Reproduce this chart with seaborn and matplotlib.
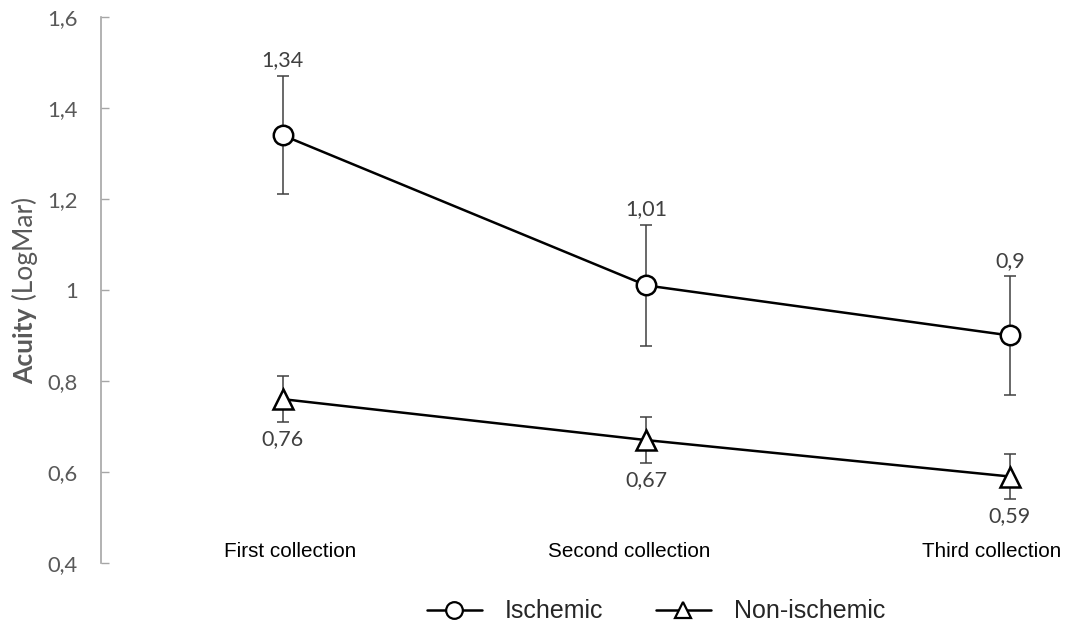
import matplotlib
matplotlib.use("Agg")
import matplotlib.pyplot as plt
import matplotlib.transforms as mtransforms
from matplotlib.lines import Line2D
import seaborn as sns
import pandas as pd
import numpy as np

categories = ["First collection", "Second collection", "Third collection"]
ischemic = [1.34, 1.01, 0.90]
ischemic_err = [0.13, 0.133, 0.13]
non_ischemic = [0.76, 0.67, 0.59]
non_ischemic_err = [0.05, 0.05, 0.05]
ischemic_labels = ["1,34", "1,01", "0,9"]
non_ischemic_labels = ["0,76", "0,67", "0,59"]
yticks = [0.4, 0.6, 0.8, 1.0, 1.2, 1.4, 1.6]
ytick_labels = ["0,4", "0,6", "0,8", "1", "1,2", "1,4", "1,6"]

sns.set_theme(style="white")
plt.rcParams['font.family'] = ['Liberation Sans', 'DejaVu Sans']
NUMFONT = ["Lato", "DejaVu Sans"]

xpos = np.arange(len(categories))
df = pd.DataFrame({
    "x": np.concatenate([xpos, xpos]),
    "y": ischemic + non_ischemic,
    "group": ["Ischemic"] * 3 + ["Non-ischemic"] * 3,
})

fig = plt.figure(figsize=(10.79, 6.29), dpi=100)
ax = fig.add_axes([0.0936, 0.105, 0.9064, 0.868])

ax.errorbar(xpos, ischemic, yerr=ischemic_err, fmt='none', ecolor='#404040',
            elinewidth=1.1, capsize=4.3, capthick=1.1, zorder=1)
ax.errorbar(xpos, non_ischemic, yerr=non_ischemic_err, fmt='none', ecolor='#404040',
            elinewidth=1.1, capsize=4.3, capthick=1.1, zorder=1)

sns.lineplot(data=df, x="x", y="y", style="group", markers={"Ischemic": "o", "Non-ischemic": "^"},
             dashes=False, color="black", linewidth=1.8, markersize=14,
             markerfacecolor="white", markeredgecolor="black", markeredgewidth=1.8,
             ax=ax, zorder=3, legend=False)

for i in range(3):
    ax.annotate(ischemic_labels[i], (xpos[i], ischemic[i] + ischemic_err[i]),
                xytext=(0, 4), textcoords="offset points", ha="center", va="bottom",
                fontsize=15.5, color="#404040", family=NUMFONT)
    ax.annotate(non_ischemic_labels[i], (xpos[i], non_ischemic[i] - non_ischemic_err[i]),
                xytext=(0, -5), textcoords="offset points", ha="center", va="top",
                fontsize=15.5, color="#404040", family=NUMFONT)

ax.set_xlim(-0.5, 2.19)
ax.set_ylim(0.4, 1.6)
ax.set_yticks(yticks)
ax.set_yticklabels(ytick_labels, fontsize=15.8, color="#595959", family=NUMFONT)
ax.tick_params(axis="y", direction="in", length=6, width=1, color="#a6a6a6", pad=16.5, left=True)
ax.set_xticks([])
ax.set_xlabel("")
ax.set_ylabel("")

# category labels (slightly offset horizontally as in the original layout)
label_shift_px = [7, -17, -18]
blend = mtransforms.blended_transform_factory(ax.transData, ax.transAxes)
for i, lab in enumerate(categories):
    tr = blend + mtransforms.ScaledTranslation(label_shift_px[i] / 100, 0, fig.dpi_scale_trans)
    ax.text(xpos[i], 0.0, lab, transform=tr, ha="center", va="center", fontsize=14.9,
            color="black")
    ax.texts[-1].set_y(11 / (0.868 * 629))

for s in ["top", "right", "bottom"]:
    ax.spines[s].set_visible(False)
ax.spines["left"].set_color("#a6a6a6")
ax.spines["left"].set_linewidth(1.2)

# y-axis title: bold "Acuity" followed by regular "(LogMar)"
t1 = fig.text(0.023, 0.39, "Acuity", rotation=90, ha="center", va="bottom",
              fontsize=19, fontweight="bold", color="#595959", family=NUMFONT)
ax.annotate(" (LogMar)", xy=(0.5, 1.0), xycoords=t1, ha="center", va="bottom", rotation=90,
            fontsize=19, color="#595959", family=NUMFONT, annotation_clip=False)

handles = [
    Line2D([], [], color="black", linewidth=1.8, marker="o", markersize=12,
           markerfacecolor="white", markeredgecolor="black", markeredgewidth=1.6),
    Line2D([], [], color="black", linewidth=1.8, marker="^", markersize=12,
           markerfacecolor="white", markeredgecolor="black", markeredgewidth=1.6),
]
fig.legend(handles, ["Ischemic", "Non-ischemic"], loc="center", bbox_to_anchor=(0.608, 0.028),
           ncol=2, frameon=False, fontsize=18, handlelength=2.2, columnspacing=2.1,
           handletextpad=0.92, borderpad=0.0)

fig.savefig("out.png", dpi=100)
